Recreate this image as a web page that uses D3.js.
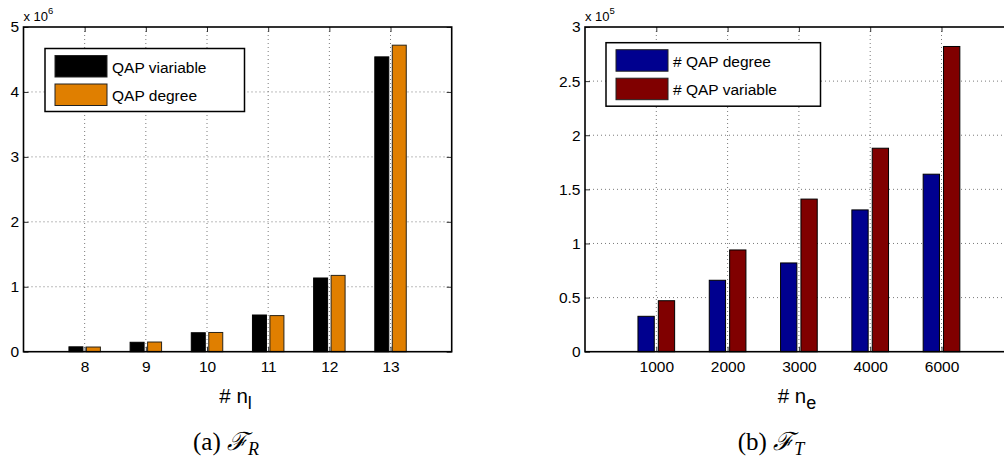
<!DOCTYPE html>
<html>
<head>
<meta charset="utf-8">
<script src="https://cdn.jsdelivr.net/npm/d3@7"></script>
<style>
  html, body { margin: 0; padding: 0; background: #fff; }
  svg { display: block; }
  text { font-family: "Liberation Sans", Arial, Helvetica, sans-serif; fill: #000; }
  .caption { font-family: "Liberation Serif", "DejaVu Serif", serif; }
</style>
</head>
<body>
<svg id="fig" width="1004" height="460"></svg>
<script>
// ---- data: (a) F_R ----
const nlLabels = ["8", "9", "10", "11", "12", "13"];
const qapVariableR = [75000, 145000, 292000, 565000, 1135000, 4540000];
const qapDegreeR = [72000, 149000, 296000, 556000, 1175000, 4720000];
const yTicksR = [0, 1e6, 2e6, 3e6, 4e6, 5e6];

// ---- data: (b) F_T ----
const neLabels = ["1000", "2000", "3000", "4000", "6000"];
const qapDegreeT = [32700, 66000, 82000, 131000, 164000];
const qapVariableT = [47100, 94000, 141000, 188000, 282000];
const yTicksT = [0, 50000, 100000, 150000, 200000, 250000, 300000];

const svg = d3.select("#fig");
const FONT = 15.5;

// grouped bars: two series, MATLAB-style group width
const groupW = 2 / 3.5;          // 0.5714
const barW = groupW / 2 * 0.8;   // 0.2286
const offs = [-groupW / 4, groupW / 4];

function panel(opt) {
  const g = svg.append("g");
  const x = d3.scaleLinear().domain([0, opt.xMax]).range([opt.left, opt.right]);
  const y = d3.scaleLinear().domain([0, opt.yMax]).range([opt.bottom, opt.top]);
  const cats = opt.labels.map((d, i) => i + 1);
  const yPlotRight = Math.min(opt.right, 1004);

  // dotted grid
  g.append("g").selectAll("line.gy").data(opt.yTicks.slice(1, -1)).join("line")
    .attr("x1", opt.left).attr("x2", yPlotRight)
    .attr("y1", d => y(d)).attr("y2", d => y(d))
    .attr("stroke", "#7a7a7a").attr("stroke-width", 1).attr("stroke-dasharray", "1,3");
  g.append("g").selectAll("line.gx").data(cats).join("line")
    .attr("x1", d => x(d)).attr("x2", d => x(d))
    .attr("y1", opt.top).attr("y2", opt.bottom)
    .attr("stroke", "#7a7a7a").attr("stroke-width", 1).attr("stroke-dasharray", "1,3");

  // bars
  opt.series.forEach((s, k) => {
    g.append("g").selectAll("rect").data(s.values).join("rect")
      .attr("x", (d, i) => x(cats[i] + offs[k] - barW / 2))
      .attr("width", (d, i) => x(cats[i] + offs[k] + barW / 2) - x(cats[i] + offs[k] - barW / 2))
      .attr("y", d => y(d))
      .attr("height", d => y(0) - y(d))
      .attr("fill", s.color)
      .attr("stroke", s.stroke).attr("stroke-width", 1);
  });

  // axes (ticks inside, mirrored on top/right)
  const fmt = opt.tickFmt;
  const xb = g.append("g").attr("transform", `translate(0,${opt.bottom})`)
    .call(d3.axisBottom(x).tickValues(cats).tickFormat((d, i) => opt.labels[i])
      .tickSizeInner(-5).tickSizeOuter(0).tickPadding(9));
  const xt = g.append("g").attr("transform", `translate(0,${opt.top})`)
    .call(d3.axisTop(x).tickValues(cats).tickFormat("").tickSizeInner(-5).tickSizeOuter(0));
  const yl = g.append("g").attr("transform", `translate(${opt.left},0)`)
    .call(d3.axisLeft(y).tickValues(opt.yTicks).tickFormat(fmt)
      .tickSizeInner(-5).tickSizeOuter(0).tickPadding(4.5));
  const yr = g.append("g").attr("transform", `translate(${opt.right},0)`)
    .call(d3.axisRight(y).tickValues(opt.yTicks).tickFormat("").tickSizeInner(-5).tickSizeOuter(0));
  [xb, xt, yl, yr].forEach(a => {
    a.select(".domain").remove();
    a.selectAll(".tick line").attr("stroke", "#333").attr("stroke-width", 1);
    a.selectAll("text").attr("font-size", FONT)
      .attr("font-family", "'Liberation Sans', Arial, sans-serif").attr("fill", "#000");
  });

  // axes box
  g.append("rect").attr("x", opt.left).attr("y", opt.top)
    .attr("width", opt.right - opt.left).attr("height", opt.bottom - opt.top)
    .attr("fill", "none").attr("stroke", "#000").attr("stroke-width", 1.6);

  // exponent label
  const ex = g.append("text").attr("x", opt.left).attr("y", opt.top - 6).attr("font-size", 13);
  ex.append("tspan").text("x 10");
  ex.append("tspan").attr("dy", -7).attr("font-size", 9.5).text(opt.exponent);

  // x label
  const xl = g.append("text").attr("x", (opt.left + Math.min(opt.right, 1013)) / 2 - 2)
    .attr("y", 403).attr("text-anchor", "middle").attr("font-size", 20.5);
  xl.append("tspan").text("# n");
  xl.append("tspan").attr("dy", 6).attr("font-size", 18).text(opt.sub);

  // legend
  const L = opt.legend;
  g.append("rect").attr("x", L.x).attr("y", L.y).attr("width", L.w).attr("height", L.h)
    .attr("fill", "#fff").attr("stroke", "#000").attr("stroke-width", 1.5);
  L.items.forEach((it, i) => {
    g.append("rect").attr("x", L.x + 10).attr("y", L.y + 7 + i * 28.5)
      .attr("width", 52).attr("height", 21.5)
      .attr("fill", it.color).attr("stroke", "#222").attr("stroke-width", 1);
    g.append("text").attr("x", L.x + 67).attr("y", L.y + 24.5 + i * 27.5)
      .attr("font-size", FONT).text(it.name);
  });

  // caption
  const c = svg.append("text").attr("class", "caption").attr("x", opt.capX).attr("y", 450)
    .attr("text-anchor", "middle").attr("font-size", 25);
  c.append("tspan").text(opt.capTag + " ");
  c.append("tspan").attr("font-family", "'DejaVu Serif', serif").attr("font-style", "italic").text("\u2131");
  c.append("tspan").attr("dy", 5).attr("font-size", 18).attr("font-style", "italic").text(opt.capSub);
}

panel({
  left: 23.5, right: 451.7, top: 27, bottom: 351.7,
  xMax: 7, yMax: 5e6, yTicks: yTicksR, labels: nlLabels,
  tickFmt: d => d3.format("~g")(d / 1e6), exponent: "6", sub: "l",
  series: [
    { values: qapVariableR, color: "#000000", stroke: "#000" },
    { values: qapDegreeR, color: "#E07F00", stroke: "#2a2418" }
  ],
  legend: { x: 45, y: 48.5, w: 199.5, h: 63,
    items: [{ name: "QAP viariable", color: "#000000" }, { name: "QAP degree", color: "#E07F00" }] },
  capX: 226, capTag: "(a)", capSub: "R"
});

panel({
  left: 585, right: 1012.8, top: 27, bottom: 351.7,
  xMax: 6, yMax: 3e5, yTicks: yTicksT, labels: neLabels,
  tickFmt: d => d3.format("~g")(d / 1e5), exponent: "5", sub: "e",
  series: [
    { values: qapDegreeT, color: "#00008F", stroke: "#000" },
    { values: qapVariableT, color: "#800000", stroke: "#000" }
  ],
  legend: { x: 606, y: 42.7, w: 214.5, h: 63.5,
    items: [{ name: "# QAP degree", color: "#00008F" }, { name: "# QAP variable", color: "#800000" }] },
  capX: 771, capTag: "(b)", capSub: "T"
});
</script>
</body>
</html>
